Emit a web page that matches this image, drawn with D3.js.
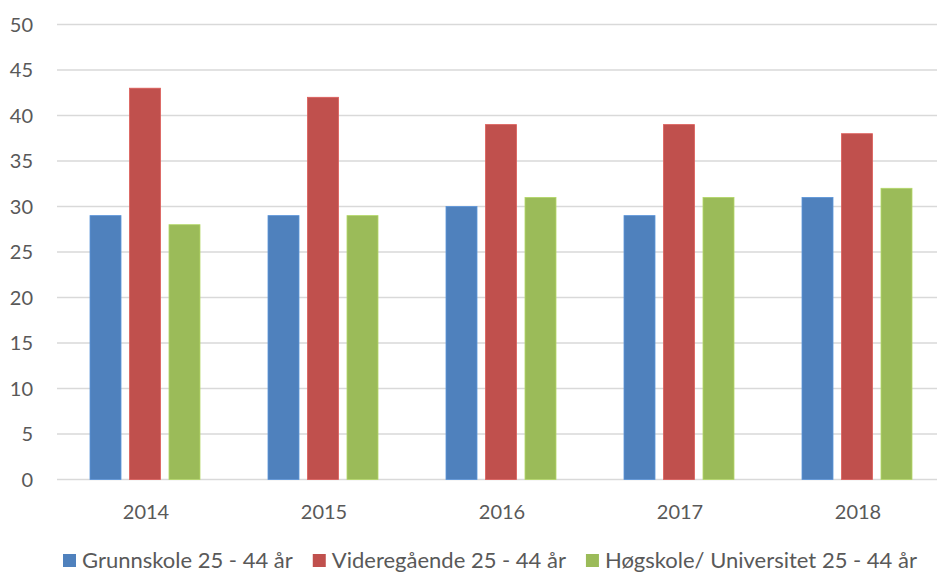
<!DOCTYPE html>
<html>
<head>
<meta charset="utf-8">
<script src="https://cdn.jsdelivr.net/npm/d3@7"></script>
<style>
  html, body { margin: 0; padding: 0; background: #fff; }
  svg { display: block; font-family: Lato, "Open Sans", sans-serif; }
</style>
</head>
<body>
<svg id="chart" width="937" height="574"></svg>
<script>
const years = ["2014", "2015", "2016", "2017", "2018"];
const seriesNames = ["Grunnskole 25 - 44 år", "Videregående 25 - 44 år", "Høgskole/ Universitet 25 - 44 år"];
const seriesColors = ["#4F81BD", "#C0504D", "#9BBB59"];
const grunnskole = [29, 29, 30, 29, 31];
const videregaende = [43, 42, 39, 39, 38];
const hogskole = [28, 29, 31, 31, 32];
const yTicks = [0, 5, 10, 15, 20, 25, 30, 35, 40, 45, 50];

const seriesValues = [grunnskole, videregaende, hogskole];

const svg = d3.select("#chart");
const margin = { left: 57, right: -10, top: 24.5, bottom: 94.5 };
const W = 937, H = 574;

const x0 = d3.scaleBand().domain(years).range([margin.left, W - margin.right]).padding(0);
const x1 = d3.scaleBand().domain(d3.range(3)).range([33, 143]).paddingInner(0.215).paddingOuter(0);
const y = d3.scaleLinear().domain([0, 50]).range([H - margin.bottom, margin.top]);

// gridlines
svg.append("g").selectAll("line").data(yTicks).join("line")
  .attr("x1", margin.left).attr("x2", W)
  .attr("y1", d => y(d)).attr("y2", d => y(d))
  .attr("stroke", "#d9d9d9").attr("stroke-width", 1.5);

// y labels
svg.append("g").selectAll("text").data(yTicks).join("text")
  .attr("x", 33).attr("y", d => y(d))
  .attr("dy", "0.36em")
  .attr("text-anchor", "end")
  .attr("font-size", 20)
  .attr("fill", "#595959")
  .text(d => d);

// bars
const groups = svg.append("g").selectAll("g").data(years).join("g")
  .attr("transform", d => `translate(${x0(d)},0)`);
groups.selectAll("rect").data((d, i) => seriesValues.map((s, k) => ({ k, v: s[i] }))).join("rect")
  .attr("x", d => x1(d.k))
  .attr("width", x1.bandwidth())
  .attr("y", d => y(d.v))
  .attr("height", d => y(0) - y(d.v))
  .attr("fill", d => seriesColors[d.k])
  .attr("stroke", d => d3.color(seriesColors[d.k]).brighter(0.4))
  .attr("stroke-width", 0.8);

// x labels
svg.append("g").selectAll("text").data(years).join("text")
  .attr("x", d => x0(d) + x0.bandwidth() / 2)
  .attr("y", 519)
  .attr("text-anchor", "middle")
  .attr("font-size", 20)
  .attr("fill", "#595959")
  .text(d => d);

// legend
const legend = svg.append("g");
const items = legend.selectAll("g").data(seriesNames).join("g");
items.append("rect").attr("width", 13).attr("height", 13).attr("y", -14)
  .attr("fill", (d, i) => seriesColors[i]);
items.append("text").attr("x", 19).attr("y", 0)
  .attr("font-size", 22).attr("fill", "#595959").text(d => d);
const gap = 20;
const widths = [];
items.each(function () { widths.push(this.getBBox().width); });
let cx = 63;
items.attr("transform", (d, i) => {
  const t = `translate(${cx},568)`;
  cx += widths[i] + gap;
  return t;
});
</script>
</body>
</html>
